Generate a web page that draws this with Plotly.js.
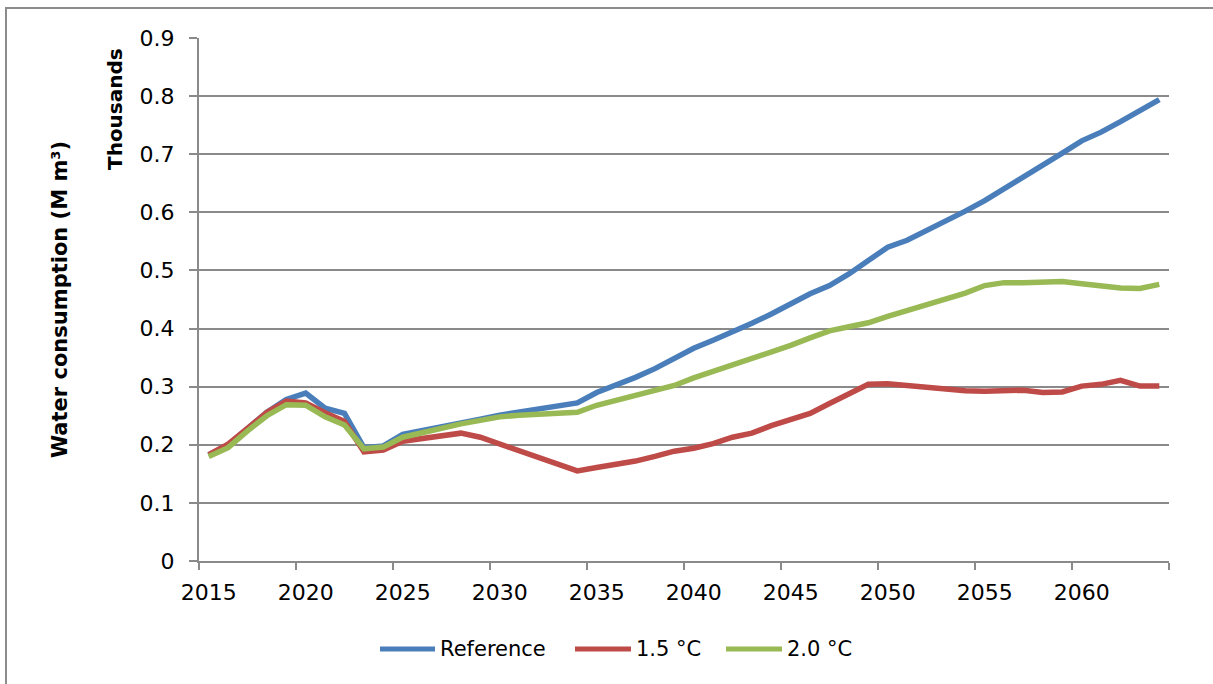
<!DOCTYPE html>
<html>
<head>
<meta charset="utf-8">
<script src="https://cdn.plot.ly/plotly-3.0.1.min.js"></script>
<style>
  html, body { margin: 0; padding: 0; background: #ffffff; }
  #chart { width: 1213px; height: 684px; }
</style>
</head>
<body>
<div id="chart"></div>
<script>
// Years on the horizontal axis
const years = [
  2015, 2016, 2017, 2018, 2019, 2020, 2021, 2022, 2023, 2024,
  2025, 2026, 2027, 2028, 2029, 2030, 2031, 2032, 2033, 2034,
  2035, 2036, 2037, 2038, 2039, 2040, 2041, 2042, 2043, 2044,
  2045, 2046, 2047, 2048, 2049, 2050, 2051, 2052, 2053, 2054,
  2055, 2056, 2057, 2058, 2059, 2060, 2061, 2062, 2063, 2064
];

// Water consumption, thousands of M m³
const referenceScenario = [
  0.182, 0.200, 0.228, 0.256, 0.278, 0.289, 0.263, 0.254, 0.195, 0.198,
  0.218, 0.224, 0.231, 0.238, 0.244, 0.251, 0.256, 0.261, 0.265, 0.272,
  0.290, 0.302, 0.316, 0.331, 0.349, 0.366, 0.380, 0.394, 0.409, 0.425,
  0.442, 0.460, 0.474, 0.494, 0.517, 0.540, 0.552, 0.568, 0.585, 0.602,
  0.620, 0.640, 0.660, 0.681, 0.702, 0.723, 0.738, 0.756, 0.775, 0.794
];
const scenario15 = [
  0.183, 0.201, 0.228, 0.256, 0.275, 0.272, 0.255, 0.240, 0.188, 0.191,
  0.206, 0.211, 0.216, 0.220, 0.213, 0.201, 0.190, 0.179, 0.165, 0.155,
  0.161, 0.166, 0.172, 0.180, 0.189, 0.194, 0.202, 0.213, 0.220, 0.233,
  0.244, 0.254, 0.271, 0.287, 0.304, 0.305, 0.302, 0.297, 0.294, 0.293,
  0.292, 0.294, 0.294, 0.290, 0.291, 0.301, 0.304, 0.311, 0.301, 0.301
];
const scenario20 = [
  0.180, 0.195, 0.224, 0.250, 0.269, 0.268, 0.248, 0.234, 0.193, 0.196,
  0.213, 0.221, 0.228, 0.236, 0.242, 0.248, 0.251, 0.253, 0.253, 0.256,
  0.268, 0.277, 0.285, 0.294, 0.302, 0.315, 0.326, 0.337, 0.348, 0.359,
  0.371, 0.384, 0.396, 0.403, 0.410, 0.421, 0.431, 0.440, 0.450, 0.461,
  0.474, 0.479, 0.479, 0.479, 0.481, 0.477, 0.473, 0.470, 0.469, 0.476
];

const seriesNames = ['Reference', '1.5 °C', '2.0 °C'];
const seriesValues = [referenceScenario, scenario15, scenario20];
const seriesColors = ['#4A7EBB', '#BE4B48', '#98B954'];

const FONT = 'DejaVu Sans, Verdana, sans-serif';
const GRID = '#8a8a8a';

// Plot-area geometry in pixels
const W = 1213, H = 684;
const M = { l: 199, r: 44, t: 38, b: 123 };
const pw = W - M.l - M.r, ph = H - M.t - M.b;
const px = x => (x - M.l) / pw;          // page x -> paper x
const py = y => (H - M.b - y) / ph;      // page y -> paper y

const traces = seriesNames.map((name, i) => ({
  type: 'scatter',
  mode: 'lines',
  name: name,
  x: years,
  y: seriesValues[i],
  line: { color: seriesColors[i], width: 5.5 },
  showlegend: false,
  hoverinfo: 'x+y+name'
}));

// Legend laid out as line swatches with labels below the plot
const legendLines = [[380, 435], [575, 631], [726, 782]];
const legendY = 649;
const shapes = [
  // chart frame
  { type: 'rect', xref: 'paper', yref: 'paper',
    x0: px(6), x1: px(1240), y0: py(720), y1: py(8),
    line: { color: '#8c8c8c', width: 2 }, fillcolor: 'rgba(0,0,0,0)', layer: 'below' }
];
const annotations = [
  { text: '<b>Thousands</b>', xref: 'paper', yref: 'paper',
    x: px(115), y: py(109), xanchor: 'center', yanchor: 'middle',
    textangle: -90, showarrow: false, font: { family: FONT, size: 20, color: '#000' } }
];
seriesNames.forEach((name, i) => {
  shapes.push({ type: 'line', xref: 'paper', yref: 'paper',
    x0: px(legendLines[i][0]), x1: px(legendLines[i][1]),
    y0: py(legendY), y1: py(legendY),
    line: { color: seriesColors[i], width: 5 } });
  annotations.push({ text: name, xref: 'paper', yref: 'paper',
    x: px(legendLines[i][1] + 3), y: py(legendY), xanchor: 'left', yanchor: 'middle',
    showarrow: false, font: { family: FONT, size: 21, color: '#000' } });
});

const tickYears = [2015, 2020, 2025, 2030, 2035, 2040, 2045, 2050, 2055, 2060];

const layout = {
  width: W, height: H,
  margin: M,
  paper_bgcolor: '#ffffff',
  plot_bgcolor: '#ffffff',
  font: { family: FONT, size: 20, color: '#000' },
  showlegend: false,
  xaxis: {
    range: [2014.5, 2064.5],
    tickmode: 'array',
    tickvals: tickYears,
    ticktext: tickYears.map(String),
    ticks: '',
    ticklabelstandoff: 11,
    minor: { tick0: 2014.5, dtick: 5, ticks: 'outside', ticklen: 7, tickwidth: 2, tickcolor: GRID, showgrid: false },
    showgrid: false,
    zeroline: false,
    showline: true, linecolor: GRID, linewidth: 2,
    tickfont: { family: FONT, size: 22, color: '#000' },
    fixedrange: true
  },
  yaxis: {
    range: [0, 0.9],
    dtick: 0.1,
    tick0: 0,
    ticks: 'outside', ticklen: 8, tickwidth: 2, tickcolor: GRID,
    ticklabelstandoff: 10,
    showgrid: true, gridcolor: GRID, gridwidth: 2,
    zeroline: false,
    showline: true, linecolor: GRID, linewidth: 2,
    tickfont: { family: FONT, size: 22, color: '#000' },
    title: { text: '<b>Water consumption (M m³)</b>', standoff: 66,
             font: { family: FONT, size: 21, color: '#000' } },
    fixedrange: true
  },
  shapes: shapes,
  annotations: annotations
};

Plotly.newPlot('chart', traces, layout, { displayModeBar: false, staticPlot: true });
</script>
</body>
</html>
